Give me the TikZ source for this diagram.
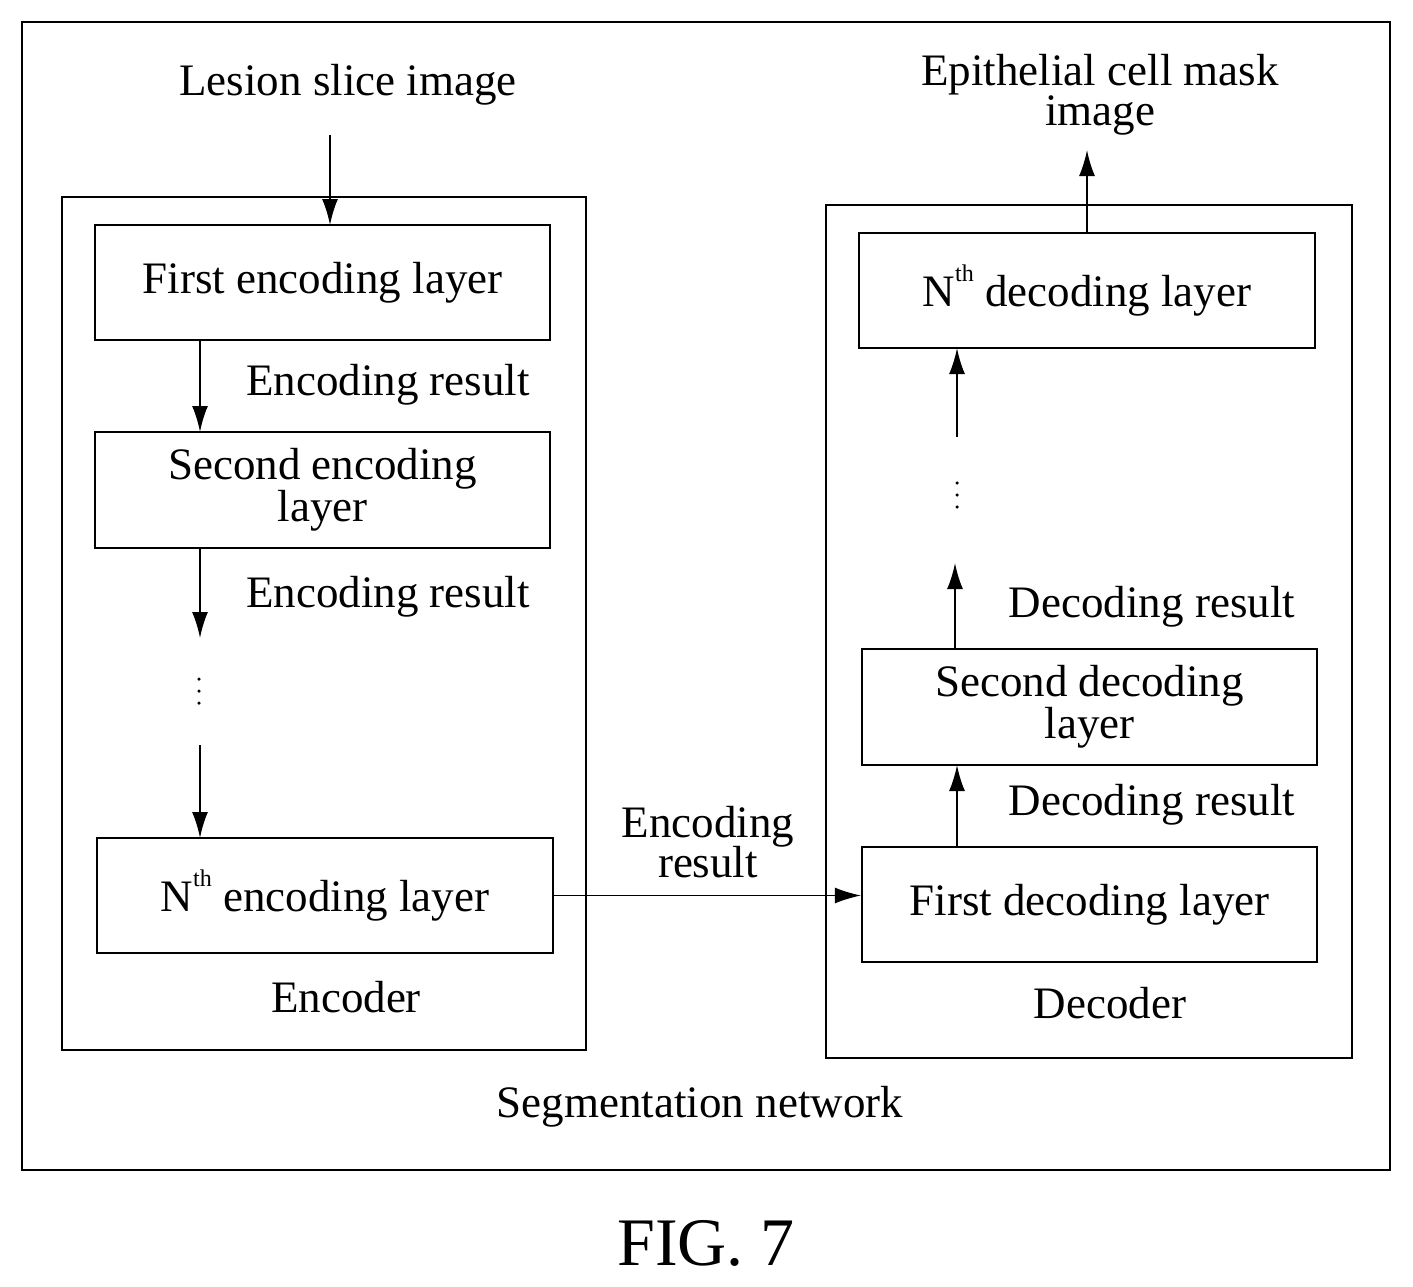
\documentclass[tikz,border=0pt]{standalone}
\usepackage{fontspec}
\setmainfont{Liberation Serif}
\usetikzlibrary{arrows.meta}
\newcommand{\sth}{\raisebox{0.55em}{\fontsize{24}{24}\selectfont th}}
\begin{document}
\begin{tikzpicture}[x=1pt,y=-1pt,
  box/.style={draw,line width=2.5pt},
  layer/.style={draw,line width=2.5pt,align=center,font=\fontsize{45}{48}\selectfont},
  lbl/.style={align=center,font=\fontsize{45}{48}\selectfont},
  dot/.style={fill,circle,inner sep=0pt,minimum size=3.5pt},
  arr/.style={line width=2pt,-{Latex[length=26pt,width=16pt]}}]
\useasboundingbox (0,0) rectangle (1413,1287);
\draw[box] (22,22) rectangle (1390,1170);
\draw[box] (62,197) rectangle (586,1050);
\draw[box] (826,205) rectangle (1352,1058);
\node[layer,minimum width=455pt,minimum height=115pt] (e1) at (322.5,282.5) {First encoding layer};
\node[layer,minimum width=455pt,minimum height=116pt] (e2) at (322.5,490) {Second encoding\\[-6pt]layer};
\node[layer,minimum width=456pt,minimum height=115pt] (en) at (325,895.5) {N\sth{} encoding layer};
\node[layer,minimum width=456pt,minimum height=115pt] (dn) at (1087,290.5) {N\sth{} decoding layer};
\node[layer,minimum width=455pt,minimum height=116pt] (d2) at (1089.5,707) {Second decoding\\[-6pt]layer};
\node[layer,minimum width=455pt,minimum height=115pt] (d1) at (1089.5,904.5) {First decoding layer};
\node[lbl] (in) at (348,85) {Lesion slice image};
\node[lbl] (out) at (1100,95) {Epithelial cell mask\\[-8pt]image};
\node[lbl] at (388,385) {Encoding result};
\node[lbl] at (388,597) {Encoding result};
\node[lbl] at (1152,607) {Decoding result};
\node[lbl] at (1152,805) {Decoding result};
\node[lbl] at (708,842) {Encoding\\[-8pt]result};
\node[lbl] at (346,997) {Encoder};
\node[lbl] at (1110,1003) {Decoder};
\node[lbl] at (700,1107) {Segmentation network};
\node[font=\fontsize{68}{72}\selectfont] at (706,1243) {FIG. 7};
\foreach \yy/\n in {679/p,691/q,703/r} \node[dot] (d1\n) at (199,\yy) {};
\foreach \yy/\n in {483/p,495/q,507/r} \node[dot] (d2\n) at (957,\yy) {};
\coordinate (a0) at (330,135);
\draw[arr] (a0) -- (330,225);
\draw[arr] (200,340) -- (200,432);
\coordinate (a1) at (200,638);
\draw[arr] (200,548) -- (a1);
\coordinate (a2) at (200,745);
\draw[arr] (a2) -- (200,838);
\draw[line width=1pt,-{Latex[length=26pt,width=16pt]}] (en.east) -- (en.east -| d1.west);
\draw[arr] (957,847) -- (957,765);
\coordinate (b1) at (955,563);
\draw[arr] (955,649) -- (b1);
\coordinate (b2) at (957,437);
\draw[arr] (b2) -- (957,348);
\coordinate (c1) at (1087,150);
\draw[arr] (1087,233) -- (c1);
\end{tikzpicture}
\end{document}
